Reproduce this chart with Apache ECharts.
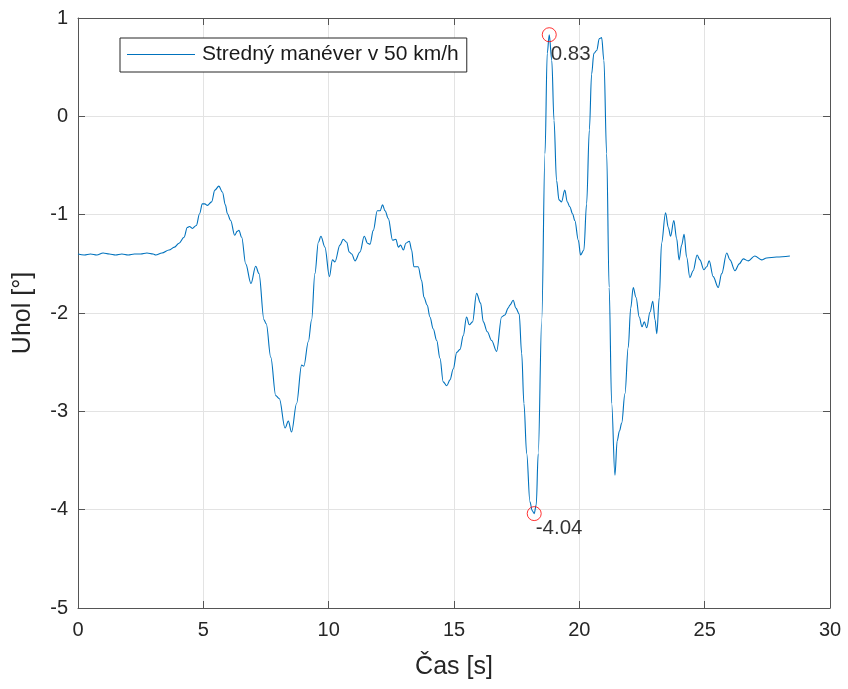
<!DOCTYPE html>
<html>
<head>
<meta charset="utf-8">
<script src="https://cdn.jsdelivr.net/npm/echarts@6/dist/echarts.min.js"></script>
<style>
  html, body { margin: 0; padding: 0; background: #fff; }
  #chart { width: 848px; height: 689px; }
</style>
</head>
<body>
<div id="chart"></div>
<script>
// Steering angle over time for a medium manoeuvre at 50 km/h
const seriesName = 'Stredný manéver v 50 km/h';

const time = [
  0.00, 0.25, 0.50, 0.75, 1.00, 1.25, 1.50, 1.75, 2.00, 2.25, 2.50, 2.75, 3.00, 3.10, 3.35,
  3.63, 3.85, 4.03, 4.23, 4.36, 4.45, 4.56, 4.72, 4.85, 4.96, 5.06, 5.16, 5.33, 5.46, 5.62,
  5.76, 5.88, 5.96, 6.09, 6.25, 6.35, 6.42, 6.53, 6.69, 6.90, 7.09, 7.22, 7.42, 7.51, 7.69,
  7.89, 8.03, 8.26, 8.39, 8.52, 8.72, 8.92, 9.01, 9.19, 9.32, 9.45, 9.59, 9.69, 9.85, 10.03,
  10.15, 10.25, 10.45, 10.58, 10.72, 10.82, 10.92, 11.05, 11.25, 11.42, 11.55, 11.65, 11.78, 11.94, 12.05,
  12.15, 12.25, 12.38, 12.55, 12.68, 12.78, 12.87, 12.98, 13.08, 13.22, 13.31, 13.40, 13.57, 13.71, 13.80,
  13.93, 14.04, 14.17, 14.31, 14.44, 14.57, 14.71, 14.84, 14.97, 15.11, 15.24, 15.37, 15.50, 15.61, 15.74,
  15.90, 16.06, 16.17, 16.33, 16.50, 16.70, 16.90, 17.03, 17.16, 17.23, 17.36, 17.47, 17.60, 17.70, 17.79,
  17.90, 18.03, 18.12, 18.20, 18.28, 18.36, 18.50, 18.63, 18.72, 18.80, 18.90, 18.99, 19.09, 19.19, 19.29,
  19.42, 19.52, 19.62, 19.73, 19.82, 19.96, 20.05, 20.18, 20.29, 20.40, 20.49, 20.58, 20.69, 20.80, 20.89,
  20.98, 21.09, 21.19, 21.29, 21.42, 21.51, 21.60, 21.69, 21.82, 21.95, 22.05, 22.15, 22.26, 22.39, 22.50,
  22.59, 22.69, 22.82, 22.93, 23.02, 23.09, 23.19, 23.28, 23.44, 23.55, 23.64, 23.77, 23.88, 23.98, 24.08,
  24.18, 24.28, 24.41, 24.54, 24.70, 24.81, 24.97, 25.08, 25.18, 25.34, 25.54, 25.68, 25.88, 26.01, 26.21,
  26.38, 26.54, 26.74, 27.00, 27.27, 27.47, 27.87, 28.40
];

const angle = [
  -1.40, -1.41, -1.40, -1.41, -1.39, -1.40, -1.41, -1.40, -1.41, -1.40, -1.40, -1.39, -1.40, -1.41, -1.39,
  -1.36, -1.33, -1.29, -1.23, -1.13, -1.12, -1.14, -1.11, -0.99, -0.89, -0.89, -0.905, -0.87, -0.75, -0.71,
  -0.77, -0.90, -0.99, -1.06, -1.21, -1.17, -1.16, -1.23, -1.50, -1.70, -1.525, -1.60, -2.07, -2.11, -2.45,
  -2.84, -2.87, -3.17, -3.10, -3.21, -2.92, -2.53, -2.54, -2.29, -2.07, -1.60, -1.28, -1.22, -1.33, -1.63,
  -1.46, -1.48, -1.31, -1.25, -1.28, -1.38, -1.40, -1.47, -1.38, -1.22, -1.29, -1.30, -1.16, -0.96, -0.96,
  -0.90, -0.96, -1.04, -1.26, -1.25, -1.33, -1.31, -1.36, -1.29, -1.27, -1.36, -1.53, -1.53, -1.67, -1.84,
  -1.92, -2.04, -2.16, -2.28, -2.46, -2.70, -2.74, -2.68, -2.57, -2.40, -2.37, -2.23, -2.04, -2.12, -2.09,
  -1.80, -1.90, -2.09, -2.19, -2.28, -2.39, -2.04, -2.02, -1.95, -1.92, -1.87, -1.95, -2.01, -2.41, -2.92,
  -3.43, -3.92, -4.01, -4.04, -3.95, -3.43, -2.07, -0.38, 0.64, 0.83, 0.57, -0.04, -0.65, -0.85, -0.87,
  -0.75, -0.87, -0.92, -0.99, -1.06, -1.26, -1.41, -1.36, -0.89, -0.14, 0.43, 0.64, 0.67, 0.79, 0.80,
  0.57, -0.38, -1.74, -2.92, -3.65, -3.30, -3.20, -3.12, -2.82, -2.35, -1.95, -1.74, -1.84, -2.04, -2.14,
  -2.09, -2.15, -1.99, -1.88, -2.07, -2.21, -1.84, -1.29, -0.98, -1.13, -1.22, -1.06, -1.24, -1.46, -1.31,
  -1.20, -1.43, -1.64, -1.57, -1.41, -1.46, -1.56, -1.53, -1.47, -1.63, -1.74, -1.60, -1.39, -1.46, -1.57,
  -1.50, -1.45, -1.47, -1.42, -1.46, -1.44, -1.43, -1.42
];

// Marked extremes (maximum and minimum)
const peakTime = [18.80, 18.20];
const peakValue = [0.83, -4.04];
const peakLabelOffset = [[-6, 20], [-6, 15]];

const xTicks = { min: 0, max: 30, interval: 5 };
const yTicks = { min: -5, max: 1, interval: 1 };

const FONT = '"Liberation Sans", Arial, Helvetica, sans-serif';
const TEXT = '#262626';
const AXIS = '#555555';
const GRID = '#e3e3e3';
const LINE = '#0072BD';

const chart = echarts.init(document.getElementById('chart'), null, { renderer: 'canvas' });

function axisBase(extra) {
  return Object.assign({
    type: 'value',
    axisLine: { show: true, onZero: false, lineStyle: { color: AXIS, width: 1 } },
    axisTick: { show: true, inside: true, length: 7, lineStyle: { color: AXIS, width: 1 } },
    splitLine: { show: false },
    axisLabel: { show: false }
  }, extra);
}

const option = {
  animation: false,
  backgroundColor: '#ffffff',
  textStyle: { fontFamily: FONT },
  grid: { left: 78, right: 18, top: 18, bottom: 81, containLabel: false },
  legend: {
    data: [{ name: seriesName, icon: 'rect' }],
    left: 120,
    top: 38,
    orient: 'horizontal',
    itemWidth: 68,
    itemHeight: 1.2,
    padding: [6, 8, 7, 7],
    borderColor: '#262626',
    borderWidth: 1,
    borderRadius: 0,
    backgroundColor: '#ffffff',
    itemStyle: { color: LINE, borderWidth: 0 },
    lineStyle: { width: 0 },
    textStyle: { fontFamily: FONT, fontSize: 21, color: '#1a1a1a', padding: [0, 0, 0, 2] }
  },
  xAxis: [
    axisBase({
      min: xTicks.min, max: xTicks.max, interval: xTicks.interval,
      position: 'bottom',
      name: 'Čas [s]',
      nameLocation: 'middle',
      nameGap: 47,
      nameTextStyle: { fontFamily: FONT, fontSize: 25, color: TEXT },
      splitLine: { show: true, lineStyle: { color: GRID, width: 1 } },
      axisLabel: { show: true, fontFamily: FONT, fontSize: 20, color: TEXT, margin: 12 }
    }),
    axisBase({
      min: xTicks.min, max: xTicks.max, interval: xTicks.interval,
      position: 'top'
    })
  ],
  yAxis: [
    axisBase({
      min: yTicks.min, max: yTicks.max, interval: yTicks.interval,
      position: 'left',
      name: 'Uhol [°]',
      nameLocation: 'middle',
      nameGap: 42,
      nameRotate: 90,
      nameTextStyle: { fontFamily: FONT, fontSize: 25, color: TEXT },
      splitLine: { show: true, lineStyle: { color: GRID, width: 1 } },
      axisLabel: { show: true, fontFamily: FONT, fontSize: 20, color: TEXT, margin: 10 }
    }),
    axisBase({
      min: yTicks.min, max: yTicks.max, interval: yTicks.interval,
      position: 'right'
    })
  ],
  series: [
    {
      name: seriesName,
      type: 'line',
      xAxisIndex: 0,
      yAxisIndex: 0,
      data: time.map((t, i) => [t, angle[i]]),
      symbol: 'none',
      smooth: 0.35,
      smoothMonotone: 'x',
      lineStyle: { color: LINE, width: 1.1 },
      itemStyle: { color: LINE },
      z: 3
    },
    {
      name: 'extremes',
      type: 'scatter',
      xAxisIndex: 0,
      yAxisIndex: 0,
      data: peakTime.map((t, i) => ({
        value: [t, peakValue[i]],
        label: { offset: peakLabelOffset[i] }
      })),
      symbol: 'circle',
      symbolSize: 14,
      itemStyle: { color: 'rgba(0,0,0,0)', borderColor: '#ff0000', borderWidth: 1 },
      label: {
        show: true,
        position: 'right',
        distance: 0,
        formatter: p => p.value[1].toFixed(2),
        fontFamily: FONT,
        fontSize: 20.5,
        color: '#000000'
      },
      z: 4
    }
  ]
};

chart.setOption(option);
</script>
</body>
</html>
